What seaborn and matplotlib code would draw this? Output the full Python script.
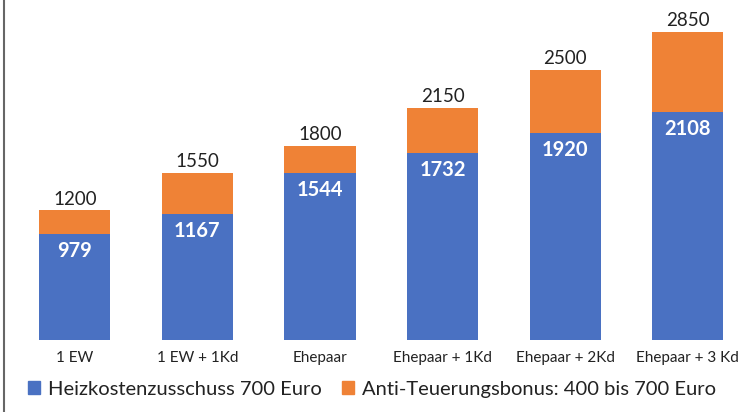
import matplotlib
matplotlib.use('Agg')
import matplotlib.pyplot as plt
import matplotlib.patches as mpatches
from matplotlib.lines import Line2D
import seaborn as sns
import pandas as pd

categories = ['1 EW', '1 EW + 1Kd', 'Ehepaar', 'Ehepaar + 1Kd', 'Ehepaar + 2Kd', 'Ehepaar + 3 Kd']
heizkosten = [979, 1167, 1544, 1732, 1920, 2108]
totals = [1200, 1550, 1800, 2150, 2500, 2850]
series_names = ['Heizkostenzusschuss 700 Euro', 'Anti-Teuerungsbonus: 400 bis 700 Euro']

blue = '#4a71c2'
orange = '#ef8236'

sns.set_theme(style='white')
plt.rcParams['font.family'] = ['Lato', 'DejaVu Sans']

df = pd.DataFrame({'Kategorie': categories, 'Heiz': heizkosten, 'Gesamt': totals})

fig = plt.figure(figsize=(7.52, 4.12), dpi=100)
ax = fig.add_axes([0.018, 0.175, 0.978, 0.786])

# stacked: total bar in orange, then heating part in blue over it
sns.barplot(data=df, x='Kategorie', y='Gesamt', color=orange, width=0.58,
            saturation=1, linewidth=0, ax=ax)
sns.barplot(data=df, x='Kategorie', y='Heiz', color=blue, width=0.58,
            saturation=1, linewidth=0, ax=ax)

for i, (h, t) in enumerate(zip(heizkosten, totals)):
    ax.annotate(f'{t}', (i, t), xytext=(0, 2), textcoords='offset points',
                ha='center', va='bottom', fontsize=13.5, color='#222222')
    ax.annotate(f'{h}', (i, h), xytext=(0, -5), textcoords='offset points',
                ha='center', va='top', fontsize=14.5, fontweight='bold', color='white')

ax.set_xlim(-0.5, 5.5)
ax.set_ylim(0, 3000)
ax.set_xlabel('')
ax.set_ylabel('')
ax.set_yticks([])
ax.tick_params(axis='x', length=0, pad=8, labelsize=11, labelcolor='#222222')
for s in ax.spines.values():
    s.set_visible(False)

handles = [mpatches.Patch(color=blue, label=series_names[0]),
           mpatches.Patch(color=orange, label=series_names[1])]
fig.legend(handles=handles, loc='center', bbox_to_anchor=(0.495, 0.055), ncol=2,
           frameon=False, fontsize=14.5, handlelength=0.6, handleheight=0.6,
           handletextpad=0.4, columnspacing=1.0, labelcolor='#222222')

# scanned frame edge on the left
fig.add_artist(Line2D([0.005, 0.005], [0, 1], transform=fig.transFigure,
                      color='#666666', lw=1.5))

fig.savefig('out.png', dpi=100)
